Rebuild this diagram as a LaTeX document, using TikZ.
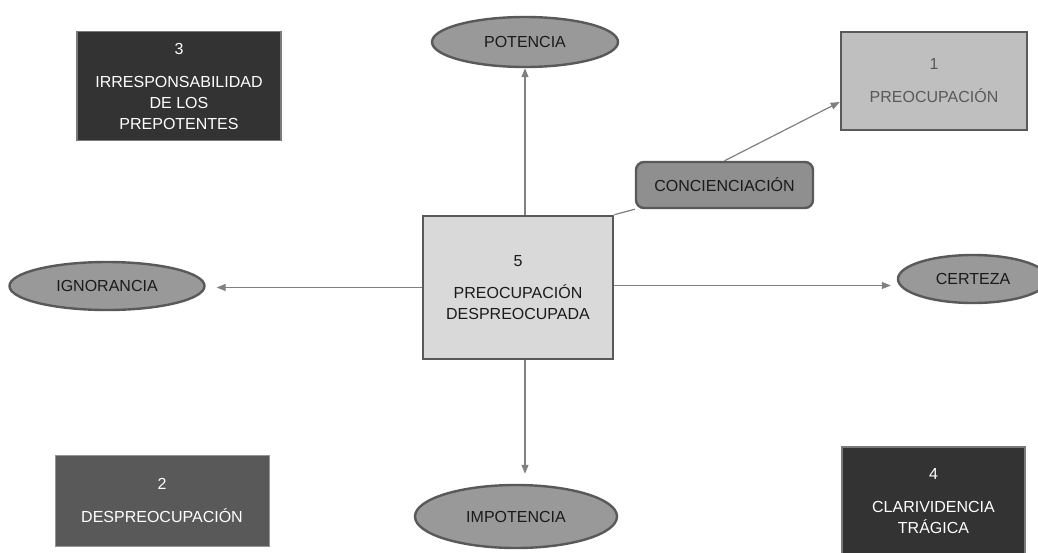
\documentclass[tikz,border=0pt]{standalone}
\usepackage{fontspec}
\setmainfont{Liberation Sans}
\usetikzlibrary{shapes.geometric,arrows.meta,calc}
\definecolor{darkbox}{HTML}{333333}
\definecolor{midbox}{HTML}{595959}
\definecolor{lightbox}{HTML}{BFBFBF}
\definecolor{centerbox}{HTML}{D9D9D9}
\definecolor{ellfill}{HTML}{999999}
\definecolor{concfill}{HTML}{8F8F8F}
\definecolor{edge}{HTML}{595959}
\definecolor{softedge}{HTML}{7A7A7A}
\definecolor{linecol}{HTML}{808080}
\definecolor{txt}{HTML}{1A1A1A}
\tikzset{
  base/.style={inner sep=0pt, align=center, font=\fontsize{16}{21}\selectfont},
  darkrect/.style={base, rectangle, fill=darkbox, draw=softedge, line width=1.8pt, text=white},
  midrect/.style={base, rectangle, fill=midbox, draw=softedge!80, line width=1pt, text=white},
  lightrect/.style={base, rectangle, fill=lightbox, draw=edge, line width=2.6pt, text=midbox},
  centrect/.style={base, rectangle, fill=centerbox, draw=edge, line width=2.6pt, text=txt},
  ell/.style={base, ellipse, fill=ellfill, draw=edge, line width=2.4pt, text=txt},
  concbox/.style={base, rectangle, rounded corners=8pt, fill=concfill, draw=edge, line width=2.4pt, text=txt},
  conn/.style={draw=linecol, line width=1.2pt, -{Triangle[length=9pt,width=7pt]}},
  plain/.style={draw=linecol, line width=1.2pt}
}
\begin{document}
\begin{tikzpicture}[x=1pt,y=-1pt]
\clip (0,0) rectangle (1038,552);
\fill[white] (0,0) rectangle (1038,552);

\node[darkrect, minimum width=204pt, minimum height=109pt] (b3) at (179,86)
  {3\\[12pt]IRRESPONSABILIDAD\\DE LOS\\PREPOTENTES};
\node[ell, minimum width=186pt, minimum height=50pt] (pot) at (525,42) {POTENCIA};
\node[lightrect, minimum width=186pt, minimum height=98pt] (b1) at (934,81)
  {1\\[12pt]PREOCUPACIÓN};
\node[concbox, minimum width=177pt, minimum height=46pt] (conc) at (724.5,185) {CONCIENCIACIÓN};
\node[centrect, minimum width=190pt, minimum height=143pt] (c) at (518,287.5)
  {5\\[11pt]PREOCUPACIÓN\\DESPREOCUPADA};
\node[ell, minimum width=195pt, minimum height=48pt] (ign) at (107,286) {IGNORANCIA};
\node[ell, minimum width=150pt, minimum height=48pt] (cer) at (973,279) {CERTEZA};
\node[midrect, minimum width=214pt, minimum height=91pt] (b2) at (162,500.5)
  {2\\[12pt]DESPREOCUPACIÓN};
\node[ell, minimum width=202pt, minimum height=63pt] (imp) at (516,516.5) {IMPOTENCIA};
\node[darkrect, minimum width=183pt, minimum height=108pt] (b4) at (933.5,501)
  {4\\[12pt]CLARIVIDENCIA\\TRÁGICA};

\draw[conn] (c.north -| pot.south) -- (pot.south);
\draw[conn, shorten >=10pt] (c.south -| pot.south) -- (imp.north -| pot.south);
\draw[conn, shorten >=11pt] (c.west) -- (ign.east |- c.west);
\draw[conn, shorten >=6pt] ($(c.east)+(0,-2)$) -- ($(cer.west |- c.east)+(0,-2)$);
\draw[plain] (c.north east) -- (conc.south west);
\draw[conn] (conc.north) -- ($(b1.west)+(0,21)$);
\end{tikzpicture}
\end{document}
